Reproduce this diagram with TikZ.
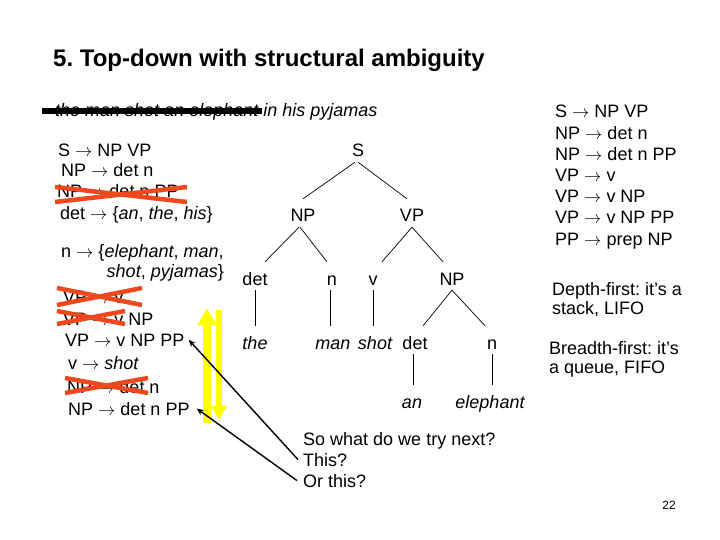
\documentclass[tikz,border=0pt]{standalone}
\usepackage{fontspec}
\setmainfont{Liberation Sans}
\usetikzlibrary{arrows.meta}
\definecolor{crossred}{RGB}{240,72,30}
\definecolor{hiyellow}{RGB}{255,255,0}
\frenchspacing

\begin{document}
\begin{tikzpicture}[x=1pt, y=-1pt,
  txt/.style={anchor=base west, inner sep=0pt, font=\fontsize{18}{21.6}\selectfont},
  cat/.style={anchor=base, inner xsep=0pt, inner ysep=5pt, text height=18pt, text depth=0pt, font=\fontsize{18}{21.6}\selectfont},
  word/.style={cat, font=\fontsize{18}{21.6}\selectfont\itshape},
  branch/.style={draw=black, line width=0.7pt},
  cross/.style={draw=crossred, line width=4.5pt},
  pointer/.style={draw=black, line width=1.4pt, -{Stealth[length=7pt,width=6pt]}}]

\path[fill=white] (0,0) rectangle (720,540);

% title and sentence
\node[anchor=base west, inner sep=0pt, font=\fontsize{24}{28}\selectfont\bfseries] (title) at (53,67) {5. Top-down with structural ambiguity};
\node[txt, font=\fontsize{18}{21.6}\selectfont\itshape] (sentence) at (55,117) {the man shot an elephant in his pyjamas};
\draw [line width=5.5pt] (42,111) -- (262,111);

% grammar on the left
\node[txt] (r1) at (58,157) {S $\rightarrow$ NP VP};
\node[txt] (r2) at (61,177) {NP $\rightarrow$ det n};
\node[txt] (r3) at (57,198) {NP $\rightarrow$ det n PP};
\node[txt] (r4) at (60,220) {det $\rightarrow$ \{\textit{an}, \textit{the}, \textit{his}\}};
\node[txt] (r5) at (61,257) {n $\rightarrow$ \{\textit{elephant}, \textit{man},};
\node[txt, anchor=base east] (r6) at (224,277) {\textit{shot}, \textit{pyjamas}\}};
\node[txt] (r7) at (63,303) {VP $\rightarrow$ v};
\node[txt] (r8) at (63,325) {VP $\rightarrow$ v NP};
\node[txt] (r9) at (65,346) {VP $\rightarrow$ v NP PP};
\node[txt] (r10) at (68,369) {v $\rightarrow$ \textit{shot}};
\node[txt] (r11) at (67,393) {NP $\rightarrow$ det n};
\node[txt] (r12) at (68,415) {NP $\rightarrow$ det n PP};

% rules already tried
\draw [cross] (55,187) -- (187,202);
\draw [cross] (55,202) -- (187,187);
\draw [cross] (57,288) -- (142,305);
\draw [cross] (57,305) -- (142,288);
\draw [cross] (57,311) -- (125,324);
\draw [cross] (57,324) -- (125,311);
\draw [cross] (65,378) -- (148,393);
\draw [cross] (65,393) -- (148,378);

% grammar on the right
\node[txt] (g1) at (555,118) {S $\rightarrow$ NP VP};
\node[txt] (g2) at (555,140) {NP $\rightarrow$ det n};
\node[txt] (g3) at (555,161) {NP $\rightarrow$ det n PP};
\node[txt] (g4) at (555,182) {VP $\rightarrow$ v};
\node[txt] (g5) at (555,203) {VP $\rightarrow$ v NP};
\node[txt] (g6) at (555,224) {VP $\rightarrow$ v NP PP};
\node[txt] (g7) at (555,245) {PP $\rightarrow$ prep NP};

\node[txt] (depth1) at (552,295) {Depth-first: it’s a};
\node[txt] (depth2) at (552,314) {stack, LIFO};
\node[txt] (breadth1) at (549,354) {Breadth-first: it’s};
\node[txt] (breadth2) at (549,373) {a queue, FIFO};

% the tree
\node[cat] (S) at (358,157) {S};
\node[cat] (NP1) at (303,222) {NP};
\node[cat] (VP) at (412,222) {VP};
\node[cat] (det1) at (255,285) {det};
\node[cat] (n1) at (332,285) {n};
\node[cat] (v) at (373,285) {v};
\node[cat] (NP2) at (452,285) {NP};
\node[word] (the) at (255,349) {the};
\node[word] (man) at (333,349) {man};
\node[word] (shot) at (375,349) {shot};
\node[cat] (det2) at (415,349) {det};
\node[cat] (n2) at (492,349) {n};
\node[word] (an) at (412,408) {an};
\node[word] (elephant) at (490,408) {elephant};

\draw [branch] ([xshift=-3pt]S.south) -- (NP1.north);
\draw [branch] (S.south) -- ([xshift=-5pt]VP.north);
\draw [branch] ([xshift=-4pt]NP1.south) -- ([xshift=10pt]det1.north);
\draw [branch] ([xshift=-3pt]NP1.south) -- ([xshift=-5pt]n1.north);
\draw [branch] (VP.south) -- ([xshift=9pt]v.north);
\draw [branch] (VP.south) -- ([xshift=-9pt]NP2.north);
\draw [branch] (det1.south) -- (det1.south |- the.north);
\draw [branch] ([xshift=-2pt]n1.south) -- ([xshift=-2pt]n1.south |- man.north);
\draw [branch] (v.south) -- (v.south |- shot.north);
\draw [branch] (NP2.south) -- ([xshift=8pt]det2.north);
\draw [branch] (NP2.south) -- ([xshift=-7pt]n2.north);
\draw [branch] ([xshift=-2pt]det2.south) -- ([xshift=-2pt]det2.south |- an.north);
\draw [branch] (n2.south) -- (n2.south |- elephant.north);

% up and down
\draw [hiyellow, line width=8pt, -{Triangle[width=18pt,length=17pt]}] (207,423) -- (207,308);
\draw [hiyellow, line width=6pt, -{Triangle[width=15pt,length=14pt]}] (219,310) -- (219,420);

% question
\node[txt] (sowhat) at (303,445) {So what do we try next?};
\node[txt] (this) at (303,466) {This?};
\node[txt] (orthis) at (303,487) {Or this?};
\draw [pointer] ([xshift=-5pt]this.west) -- ([xshift=4pt]r9.east);
\draw [pointer] ([xshift=-6pt]orthis.west) -- ([xshift=7pt]r12.east);

\node[anchor=base, inner sep=0pt, font=\fontsize{12}{14}\selectfont] (page) at (669,509) {22};
\end{tikzpicture}
\end{document}
